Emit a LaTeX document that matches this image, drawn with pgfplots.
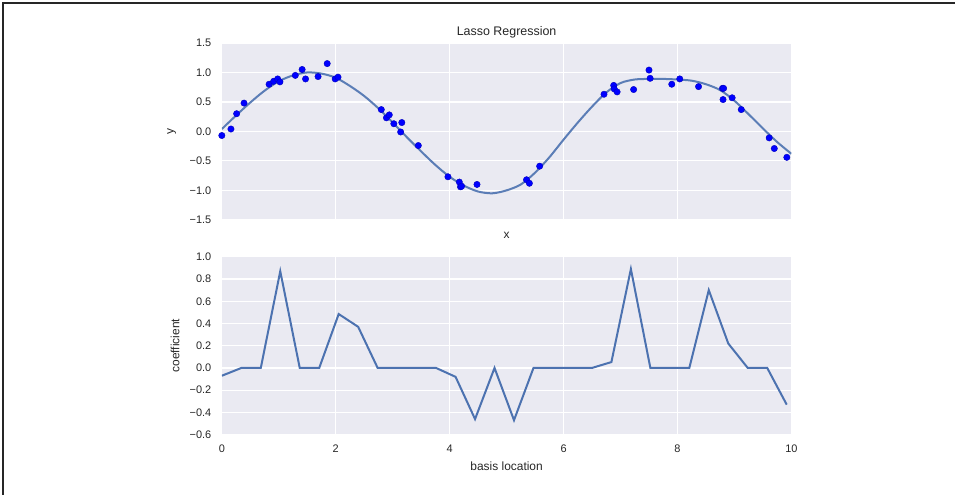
\documentclass[border=0pt]{standalone}
\usepackage{pgfplots}
\pgfplotsset{compat=1.18}
\usepackage{fontspec}
\setmainfont{Liberation Sans}
\definecolor{bgc}{HTML}{EAEAF2}
\definecolor{txt}{HTML}{262626}
\definecolor{sb}{HTML}{4C72B0}
\begin{document}
\begin{tikzpicture}
\path (0bp,0bp) rectangle (956bp,495bp);
\draw[line width=1.5bp, black!85] (3bp,0bp) -- (3bp,492bp) -- (956bp,492bp);
\pgfplotsset{sea/.style={scale only axis, width=570bp,
  axis background/.style={fill=bgc}, axis line style={draw=none},
  major tick length=0pt, grid=major, major grid style={white, line width=1.2bp},
  tick label style={font=\fontsize{11}{13}\selectfont, text=txt},
  label style={font=\fontsize{12}{14}\selectfont, text=txt},
  yticklabel style={xshift=-7bp}, xticklabel style={yshift=-7bp},
  xmin=0, xmax=10, xtick={0,2,...,10}, anchor=south west}}
% top axis
\begin{axis}[sea, at={(222bp,275bp)}, height=177bp,
  ymin=-1.5, ymax=1.5, ytick={-1.5,-1,-0.5,0,0.5,1,1.5},
  yticklabels={−1.5,−1.0,−0.5,0.0,0.5,1.0,1.5},
  xticklabels={},
  title={Lasso Regression},
  title style={at={(axis description cs:0.5,1.028)}, anchor=center, font=\fontsize{12.5}{14}\selectfont, text=txt},
  xlabel={x}, xlabel style={at={(axis description cs:0.5,-0.085)}, anchor=center},
  ylabel={y}, ylabel style={at={(axis description cs:-0.088,0.5)}, anchor=center}]
\addplot[only marks, mark=*, mark size=3.2bp, mark options={fill=blue, draw=blue!75!black, line width=0.4bp}] coordinates {
(0.00,-0.07) (0.16,0.04) (0.26,0.30) (0.39,0.48) (0.83,0.80) (0.91,0.85) (0.98,0.89) (1.02,0.84)
(1.29,0.95) (1.41,1.05) (1.47,0.89) (1.69,0.93) (1.85,1.15) (1.99,0.89) (2.04,0.92)
(2.80,0.37) (2.89,0.23) (2.94,0.28) (3.02,0.13) (3.14,-0.01) (3.16,0.15) (3.45,-0.24)
(3.97,-0.77) (4.17,-0.86) (4.19,-0.94) (4.21,-0.93) (4.48,-0.90)
(5.35,-0.82) (5.40,-0.88) (5.58,-0.59)
(6.71,0.63) (6.88,0.78) (6.89,0.72) (6.94,0.67) (7.23,0.71) (7.50,1.04) (7.52,0.90)
(7.90,0.80) (8.04,0.89) (8.37,0.76) (8.79,0.73) (8.81,0.73) (8.80,0.54) (8.96,0.57)
(9.12,0.37) (9.61,-0.11) (9.70,-0.29) (9.92,-0.44)
};
\addplot[sb, line width=2bp, smooth, opacity=0.9] coordinates {
(0.00,0.04) (0.25,0.27) (0.50,0.49) (0.75,0.69) (1.00,0.85) (1.25,0.95) (1.50,1.00)
(1.75,0.98) (2.00,0.91) (2.25,0.77) (2.50,0.60) (2.75,0.39) (3.00,0.15) (3.25,-0.10)
(3.50,-0.34) (3.75,-0.57) (4.00,-0.77) (4.25,-0.92) (4.50,-1.02) (4.75,-1.05) (5.00,-1.00)
(5.25,-0.90) (5.50,-0.70) (5.75,-0.44) (6.00,-0.14) (6.25,0.15) (6.50,0.42) (6.75,0.66)
(7.00,0.82) (7.25,0.88) (7.50,0.89) (7.75,0.89) (8.00,0.88) (8.25,0.86) (8.50,0.80)
(8.75,0.70) (9.00,0.52) (9.25,0.29) (9.50,0.05) (9.75,-0.18) (10.00,-0.38)
};
\end{axis}
% bottom axis
\begin{axis}[sea, at={(222bp,60bp)}, height=178bp,
  ymin=-0.6, ymax=1.0, ytick={-0.6,-0.4,-0.2,0,0.2,0.4,0.6,0.8,1.0},
  yticklabels={−0.6,−0.4,−0.2,0.0,0.2,0.4,0.6,0.8,1.0},
  xticklabels={0,2,4,6,8,10},
  xlabel={basis location}, xlabel style={at={(axis description cs:0.5,-0.18)}, anchor=center},
  ylabel={coefficient}, ylabel style={at={(axis description cs:-0.082,0.5)}, anchor=center}]
\addplot[sb, line width=2bp] coordinates {
(0.000,-0.07) (0.342,0) (0.684,0) (1.026,0.87) (1.368,0) (1.710,0) (2.052,0.485) (2.394,0.37)
(2.736,0) (3.078,0) (3.420,0) (3.762,0) (4.104,-0.08) (4.446,-0.46) (4.788,0) (5.130,-0.47)
(5.472,0) (5.814,0) (6.156,0) (6.498,0) (6.840,0.053) (7.182,0.89) (7.524,0) (7.866,0)
(8.208,0) (8.550,0.70) (8.892,0.22) (9.234,0) (9.576,0) (9.918,-0.33)
};
\end{axis}
\end{tikzpicture}
\end{document}
